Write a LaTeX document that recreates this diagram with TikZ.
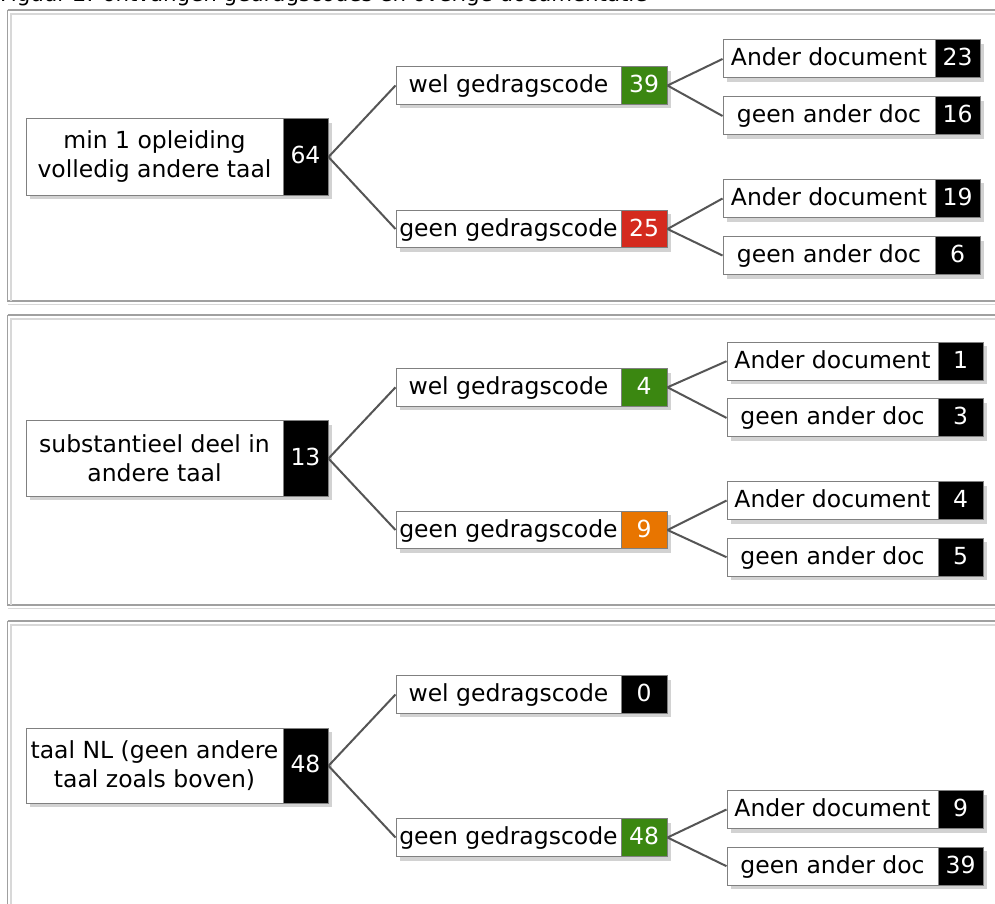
\documentclass[tikz,border=0pt]{standalone}
\usepackage{fontspec}
\setmainfont{DejaVu Sans}
\usetikzlibrary{shadows}
\definecolor{cgreen}{HTML}{3B8711}
\definecolor{cred}{HTML}{D42A1E}
\definecolor{corange}{HTML}{E87500}
\definecolor{edgecol}{HTML}{555555}
\definecolor{bordergray}{HTML}{808080}
\definecolor{shadowgray}{HTML}{D2D2D2}
\definecolor{framedark}{HTML}{A0A0A0}
\definecolor{framelight}{HTML}{D8D8D8}
\newcommand{\mybox}[9]{%
  \node[whitebox, minimum width={#3-#2}, minimum height=#6] (#1) at ({(#2+#3)/2},#5) {#7};
  \node[numbox, fill=#9, minimum width={#4-#3}, minimum height=#6] (#1n) at ({(#3+#4)/2},#5) {#8};
}
\newcommand{\myroot}[9]{%
  \node[rootbox, minimum width={#3-#2}, minimum height=#6] (#1) at ({(#2+#3)/2},#5) {#7};
  \node[numbox, fill=#9, minimum width={#4-#3}, minimum height=#6] (#1n) at ({(#3+#4)/2},#5) {#8};
}
\newcommand{\myframe}[2]{%
  \draw[framedark, line width=1.2pt] (7.5,#1) -- (1000,#1) (7.5,#1) -- (7.5,#2) -- (1000,#2);
  \draw[framelight, line width=1.2pt] (11,#2) -- (11,#1+4) -- (1000,#1+4);
  \draw[framelight, line width=1.2pt] (8,#2+3.5) -- (1000,#2+3.5);
}
\begin{document}
\begin{tikzpicture}[x=1pt,y=-1pt,
  boxbase/.style={draw=bordergray, line width=1pt, inner sep=0pt, rectangle,
    font=\fontsize{23.5}{29}\selectfont,
    drop shadow={shadow xshift=4pt, shadow yshift=-4pt, fill=shadowgray, opacity=1, draw=none}},
  whitebox/.style={boxbase, fill=white, text=black, text height=18.5pt, text depth=4.5pt},
  rootbox/.style={boxbase, fill=white, text=black, align=center},
  numbox/.style={boxbase, text=white, text height=18.5pt, text depth=4.5pt},
  link/.style={draw=edgecol, line width=2pt}]
\useasboundingbox (0,0) rectangle (995,904);
\fill[white] (0,0) rectangle (995,904);

\node[anchor=base west, inner sep=0pt, font=\fontsize{21.3}{25}\selectfont] (title) at (0,1.5) {Figuur 2: ontvangen gedragscodes en overige documentatie};

\myframe{10}{301}
\myframe{315}{605}
\myframe{621}{925}

% Panel 1
\myroot{r1}{26}{283}{328}{157}{76}{min 1 opleiding\\volledig andere taal}{64}{black}
\mybox{w1}{396}{621}{667}{85.5}{37.5}{wel gedragscode}{39}{cgreen}
\mybox{g1}{396}{621}{667}{229}{37.5}{geen gedragscode}{25}{cred}
\mybox{a1}{723}{935}{980}{59}{38}{Ander document}{23}{black}
\mybox{b1}{723}{935}{980}{116}{38}{geen ander doc}{16}{black}
\mybox{c1}{723}{935}{980}{198.5}{38}{Ander document}{19}{black}
\mybox{d1}{723}{935}{980}{255.5}{38}{geen ander doc}{6}{black}
\draw[link] (r1n.east) -- (w1.west);
\draw[link] (r1n.east) -- (g1.west);
\draw[link] (w1n.east) -- (a1.west);
\draw[link] (w1n.east) -- (b1.west);
\draw[link] (g1n.east) -- (c1.west);
\draw[link] (g1n.east) -- (d1.west);

% Panel 2
\myroot{r2}{26}{283}{328}{458.5}{75.5}{substantieel deel in\\andere taal}{13}{black}
\mybox{w2}{396}{621}{667}{387.3}{37.5}{wel gedragscode}{4}{cgreen}
\mybox{g2}{396}{621}{667}{530}{37.5}{geen gedragscode}{9}{corange}
\mybox{a2}{727}{938}{983}{361.2}{38}{Ander document}{1}{black}
\mybox{b2}{727}{938}{983}{417.9}{38}{geen ander doc}{3}{black}
\mybox{c2}{727}{938}{983}{500.5}{38}{Ander document}{4}{black}
\mybox{d2}{727}{938}{983}{557.2}{38}{geen ander doc}{5}{black}
\draw[link] (r2n.east) -- (w2.west);
\draw[link] (r2n.east) -- (g2.west);
\draw[link] (w2n.east) -- (a2.west);
\draw[link] (w2n.east) -- (b2.west);
\draw[link] (g2n.east) -- (c2.west);
\draw[link] (g2n.east) -- (d2.west);

% Panel 3
\myroot{r3}{26}{283}{328}{765.8}{75}{taal NL (geen andere\\taal zoals boven)}{48}{black}
\mybox{w3}{396}{621}{667}{694.5}{37.5}{wel gedragscode}{0}{black}
\mybox{g3}{396}{621}{667}{837.5}{38}{geen gedragscode}{48}{cgreen}
\mybox{a3}{727}{938}{983}{809.5}{38}{Ander document}{9}{black}
\mybox{b3}{727}{938}{983}{866.2}{38}{geen ander doc}{39}{black}
\draw[link] (r3n.east) -- (w3.west);
\draw[link] (r3n.east) -- (g3.west);
\draw[link] (g3n.east) -- (a3.west);
\draw[link] (g3n.east) -- (b3.west);
\end{tikzpicture}
\end{document}
